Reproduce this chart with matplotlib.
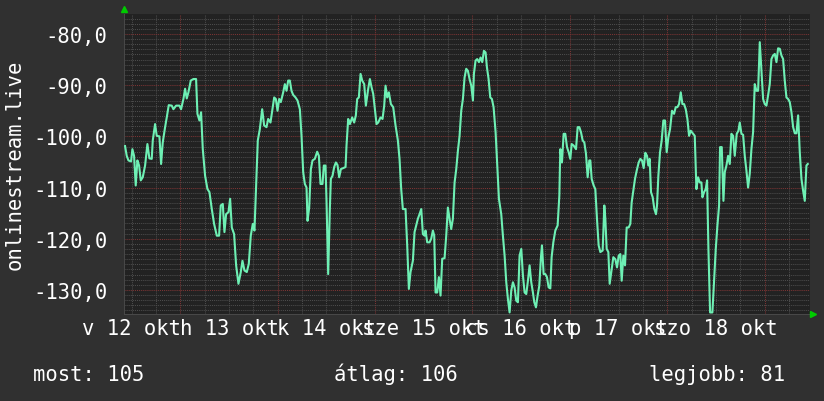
import matplotlib
matplotlib.use("Agg")
import matplotlib.pyplot as plt
import numpy as np

BG = "#303030"
PLOT_BG = "#222222"
LINE = "#6ef0b4"
MINOR = "#4c4c4c"
MAJOR = "#7c3434"
ARROW = "#00cc00"
FONT = "DejaVu Sans Mono"
FS = 14.8

# hours since 12 okt 00:00
hours = [
    10.36, 10.77, 11.19, 11.84, 12.17, 12.58, 12.99, 13.40, 13.82, 14.23,
    14.72, 15.30, 15.87, 16.36, 16.94, 17.19, 17.76, 18.17, 18.83, 19.24,
    19.65, 20.23, 20.64, 21.13, 21.87, 22.28, 22.94, 23.76, 24.17, 24.75,
    25.16, 25.57, 25.98, 26.56, 27.21, 27.87, 28.20, 28.69, 29.10, 29.52,
    30.09, 30.67, 31.16, 31.74, 32.31, 32.97, 33.54, 33.95, 34.45, 34.86,
    35.27, 35.85, 36.26, 36.67, 37.24, 37.74, 38.31, 38.89, 39.30, 39.79,
    40.37, 40.86, 41.35, 41.85, 42.26, 42.67, 43.08,
    43.58, 44.16, 44.65, 45.23, 45.64, 46.21, 46.70, 47.12, 47.53, 47.94,
    48.35, 48.76, 49.34, 49.75, 50.16, 50.57, 50.98, 51.39, 51.80, 52.38,
    52.87, 53.45, 53.86, 54.27, 54.68, 55.09, 55.34, 55.75, 56.16, 56.57,
    57.14, 57.72, 58.13, 58.54, 59.03, 59.36, 59.77, 60.02, 60.43, 60.84,
    61.09, 61.50, 61.91, 62.32, 62.73, 63.14, 63.56, 64.13, 64.71, 64.95,
    65.36, 65.78, 66.35, 66.84, 67.25, 67.58, 67.99, 68.41, 68.82, 69.31,
    69.72, 70.30, 70.71, 71.12, 71.53, 71.94, 72.35, 72.76, 73.34, 73.83,
    74.24, 74.57, 74.98, 75.39, 75.89, 76.46, 77.04,
    77.61, 78.02, 78.43, 78.84, 79.50, 79.91, 80.32, 80.73, 81.31, 81.72,
    82.13, 82.54, 82.95, 83.37, 83.78, 84.19, 84.43, 84.84, 85.42, 85.83,
    86.24, 86.57, 86.90, 87.31, 87.72, 88.13, 88.54, 89.12, 89.53, 89.94,
    90.35, 90.76, 91.17, 91.59, 92.00, 92.41, 92.82, 93.23, 93.64, 94.05,
    94.46, 94.87, 95.28, 95.70, 96.11, 96.35, 96.76, 97.17, 97.59, 98.00,
    98.41, 98.82, 99.23, 99.56, 99.97, 100.38, 100.79, 101.20, 101.70, 102.11,
    102.52, 103.09, 103.50, 103.92, 104.33, 104.74, 105.15, 105.56, 105.97, 106.38,
    106.79, 107.20, 107.61, 108.03, 108.44, 108.85, 109.26, 109.67, 110.08, 110.49,
    110.90,
    111.24, 111.65, 112.06, 112.47, 112.88, 113.13, 113.54, 113.95, 114.36, 114.77,
    115.19, 115.51, 115.93, 116.42, 116.99, 117.41, 117.65, 118.06, 118.47, 118.88,
    119.30, 119.71, 120.12, 120.45, 120.94, 121.52, 121.93, 122.34, 122.75, 123.16,
    123.57, 123.98, 124.39, 124.80, 125.05, 125.38, 125.87, 126.28, 126.69, 127.10,
    127.52, 128.09, 128.50, 128.75, 129.08, 129.49, 129.82, 130.31, 130.72, 131.21,
    131.63, 132.04, 132.45, 132.78, 133.19, 133.60, 134.01, 134.50, 134.91, 135.24,
    135.65, 136.06, 136.48, 136.97, 137.38, 137.79, 138.20, 138.61, 139.02, 139.35,
    139.68, 140.01, 140.42, 140.83, 141.24, 141.49, 141.82, 142.23, 142.64, 143.05,
    143.46, 143.87, 144.28, 144.70, 145.19,
    145.69, 146.10, 146.51, 146.92, 147.34, 147.75, 148.16, 148.57, 148.98, 149.39,
    149.80, 150.38, 150.79, 151.20, 151.61, 152.02, 152.43, 152.68, 153.09, 153.50,
    153.83, 154.16, 154.57, 155.14, 155.56, 155.97, 156.38, 156.79, 157.03, 157.45,
    157.86, 158.19, 158.60, 159.01, 159.42, 159.83, 160.24, 160.65, 161.14, 161.56,
    161.88, 162.30, 162.71, 163.12, 163.53, 163.94, 164.35, 164.76, 165.17, 165.58,
    165.99, 166.41, 166.82, 167.23, 167.64, 168.05, 168.46, 168.87, 169.28, 169.69,
    170.10, 170.52, 170.93, 171.34, 171.75, 172.16, 172.57, 172.98, 173.39, 173.80,
    174.21, 174.63, 175.04, 175.45, 175.86, 176.27, 176.68, 177.09, 177.50, 177.91,
    178.32, 178.65,
]

signal = [
    -101.9, -103.8, -104.7, -104.9, -102.5, -103.8, -109.6, -104.7, -105.7, -108.6,
    -108.0, -105.7, -101.5, -104.3, -104.4, -100.8, -97.6, -99.9, -100.0, -105.4,
    -101.2, -98.2, -96.3, -93.9, -94.0, -94.7, -94.0, -94.0, -94.7, -92.7,
    -90.7, -92.6, -91.4, -89.1, -88.8, -88.8, -95.6, -96.9, -95.3, -102.5,
    -107.7, -110.3, -110.9, -114.2, -117.1, -119.4, -119.4, -113.5, -113.2, -118.7,
    -115.2, -114.8, -112.2, -117.8, -119.1, -125.2, -128.8, -126.5, -124.3, -126.2,
    -126.5, -124.9, -119.4, -117.1, -118.4, -109.6, -100.8,
    -98.6, -94.7, -97.9, -98.2, -96.6, -97.3, -94.7, -92.4, -92.7, -95.0,
    -92.7, -93.3, -91.4, -89.8, -91.1, -89.1, -89.1, -91.1, -91.9, -92.4,
    -93.0, -94.7, -99.9, -107.0, -109.3, -110.0, -116.5, -113.9, -106.4, -104.7,
    -104.4, -103.0, -103.8, -109.3, -109.3, -105.7, -105.7, -112.6, -126.9, -114.2,
    -108.3, -107.7, -106.0, -105.1, -105.6, -108.0, -106.4, -106.2, -106.0, -101.8,
    -96.6, -97.6, -96.3, -97.3, -95.9, -92.7, -92.4, -87.8, -89.1, -89.8,
    -94.0, -90.7, -88.8, -90.4, -91.7, -94.7, -97.6, -97.3, -96.3, -96.6,
    -94.0, -90.1, -92.4, -91.4, -93.7, -94.3, -97.9,
    -100.8, -104.4, -110.3, -114.2, -114.2, -121.3, -129.8, -126.5, -124.3, -118.7,
    -117.4, -116.1, -115.2, -114.2, -119.1, -119.4, -118.4, -120.7, -120.7, -120.0,
    -118.4, -119.4, -130.5, -130.5, -127.5, -131.1, -123.9, -123.8, -119.4, -113.9,
    -116.1, -118.1, -116.1, -109.0, -106.4, -102.8, -99.9, -95.0, -92.7, -88.5,
    -86.8, -87.2, -88.8, -90.1, -93.0, -87.8, -85.2, -84.9, -85.5, -84.6,
    -85.5, -83.3, -83.6, -86.5, -88.8, -92.4, -92.7, -94.3, -99.2, -105.7,
    -112.2, -115.2, -119.4, -123.3, -128.5, -131.8, -134.4, -130.1, -128.5, -129.5,
    -132.1, -132.4, -123.3, -122.0, -127.2, -130.5, -130.8, -128.2, -125.2, -128.5,
    -130.5,
    -132.4, -133.4, -131.1, -129.2, -123.6, -121.3, -126.9, -126.9, -127.5, -129.5,
    -129.7, -123.6, -120.7, -118.4, -117.4, -111.6, -102.5, -105.1, -99.5, -99.5,
    -102.1, -103.1, -104.4, -101.5, -101.8, -102.5, -98.2, -98.2, -99.2, -100.8,
    -101.2, -103.4, -108.0, -104.7, -104.7, -108.3, -109.6, -110.3, -116.1, -121.3,
    -122.6, -122.3, -113.5, -116.1, -122.0, -122.6, -128.8, -125.9, -123.6, -124.0,
    -125.6, -123.3, -123.0, -128.2, -123.3, -125.2, -117.8, -117.8, -117.1, -112.9,
    -110.6, -108.3, -106.7, -105.1, -104.4, -104.7, -106.2, -103.2, -103.8, -105.7,
    -104.4, -110.9, -111.9, -114.2, -115.2, -113.5, -107.7, -103.1, -100.8, -96.9,
    -96.9, -103.1, -100.2, -98.6, -95.0,
    -95.6, -94.3, -94.3, -93.7, -91.4, -93.7, -93.7, -94.7, -96.6, -99.9,
    -98.9, -99.5, -99.9, -110.3, -108.0, -109.0, -109.0, -111.9, -110.9, -110.3,
    -108.6, -122.0, -134.4, -134.4, -128.2, -122.0, -117.4, -113.5, -102.1, -102.1,
    -112.6, -107.0, -105.7, -103.8, -105.4, -99.5, -99.9, -103.8, -99.5, -98.9,
    -97.3, -99.5, -99.7, -103.8, -106.7, -110.0, -107.3, -102.5, -99.2, -89.8,
    -91.1, -91.1, -81.6, -87.2, -92.7, -93.7, -94.0, -92.0, -89.8, -84.9,
    -84.2, -83.9, -85.5, -82.8, -82.9, -84.2, -84.9, -89.1, -92.4, -92.7,
    -93.3, -95.3, -98.2, -99.4, -99.4, -95.9, -103.1, -108.3, -110.6, -112.6,
    -105.7, -105.4,
]

label_hours = [12, 36, 60, 84, 108, 132, 156]
day_labels = ["v 12 okt", "h 13 okt", "k 14 okt", "sze 15 okt",
              "cs 16 okt", "p 17 okt", "szo 18 okt"]
y_ticks = [-80, -90, -100, -110, -120, -130]
x_min, x_max = 10.1, 179.2
y_min, y_max = -134.7, -76.1

fig = plt.figure(figsize=(8.24, 4.02), dpi=100, facecolor=BG)
ax = fig.add_axes([124 / 824, 87 / 402, 686 / 824, 300 / 402])
ax.set_facecolor(PLOT_BG)

dots = (0, (1, 1))
for h in np.arange(12, x_max, 6):
    major = h % 24 == 0
    ax.axvline(h, color=MAJOR if major else MINOR, lw=0.75, ls=dots, zorder=1)
for v in np.arange(-134, y_max, 1):
    major = v % 10 == 0
    ax.axhline(v, color=MAJOR if major else MINOR, lw=0.75, ls=dots, zorder=1)

ax.plot(hours, signal, color=LINE, lw=1.5, zorder=3)

ax.set_xlim(x_min, x_max)
ax.set_ylim(y_min, y_max)
ax.set_xticks(label_hours)
ax.set_xticklabels(day_labels)
ax.set_yticks(y_ticks)
ax.set_yticklabels([f"{v:.1f}".replace(".", ",") for v in y_ticks])
ax.tick_params(length=0, colors="white", labelsize=FS)
ax.tick_params(axis="y", pad=12)
ax.tick_params(axis="x", pad=3)
for lab in ax.get_xticklabels() + ax.get_yticklabels():
    lab.set_fontfamily(FONT)

for side in ("top", "right"):
    ax.spines[side].set_visible(False)
for side in ("left", "bottom"):
    ax.spines[side].set_color("#484848")
    ax.spines[side].set_linewidth(0.75)

# rrdtool style arrows at axis ends
ax.plot([x_min], [y_max + 1.0], marker="^", color=ARROW, ms=5,
        clip_on=False, zorder=5)
ax.plot([x_max + 0.8], [y_min], marker=">", color=ARROW, ms=5,
        clip_on=False, zorder=5)

fig.text(15 / 824, 1 - 165 / 402, "onlinestream.live", rotation=90,
         ha="center", va="center", color="white", fontsize=FS, family=FONT)

text_y = 1 - 381 / 402
fig.text(33 / 824, text_y, "most: 105", ha="left", va="baseline",
         color="white", fontsize=FS, family=FONT)
fig.text(334 / 824, text_y, "átlag: 106", ha="left", va="baseline",
         color="white", fontsize=FS, family=FONT)
fig.text(649 / 824, text_y, "legjobb: 81", ha="left", va="baseline",
         color="white", fontsize=FS, family=FONT)

fig.savefig("out.png", dpi=100, facecolor=BG)
